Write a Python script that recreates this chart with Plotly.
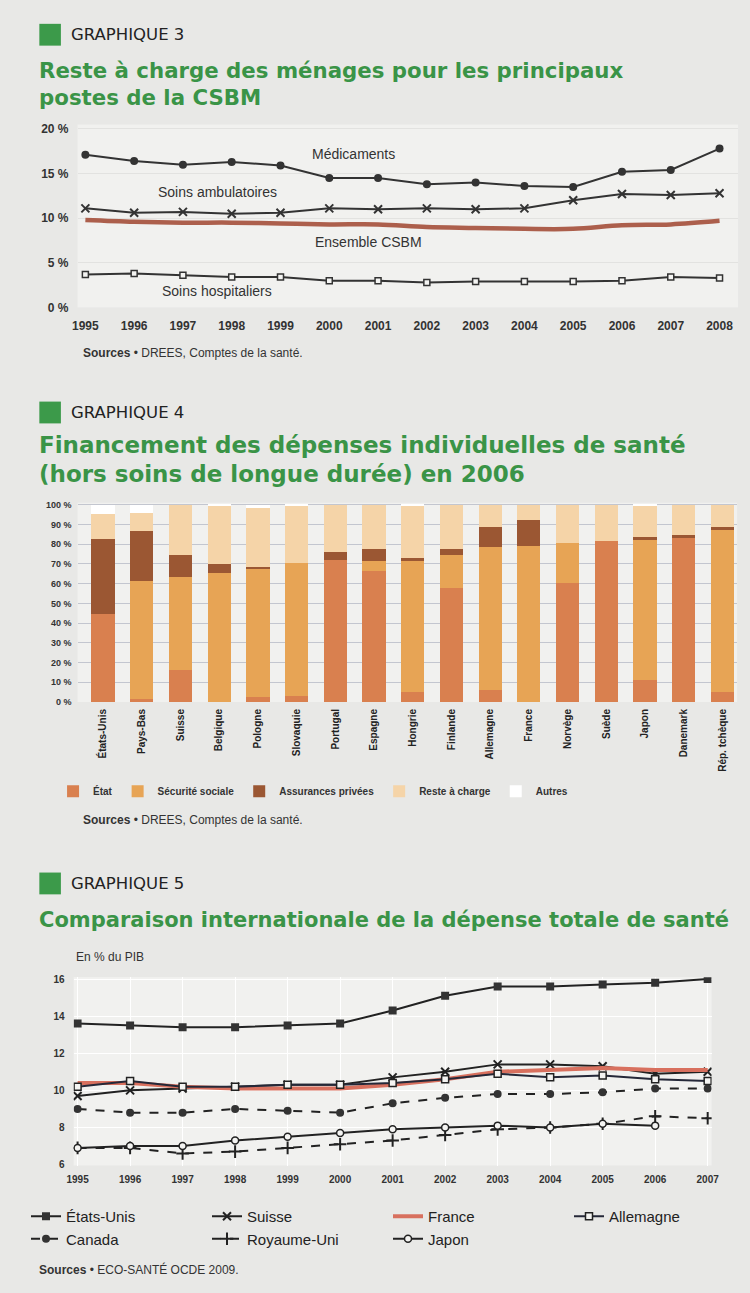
import plotly.graph_objects as go

W, H = 750, 1293

# --- Graphique 3 : reste à charge (%)
annees_g3 = list(range(1995, 2009))
medicaments = [17.1, 16.4, 16.0, 16.3, 15.9, 14.5, 14.5, 13.8, 14.0, 13.6, 13.5, 15.2, 15.4, 17.8]
soins_ambulatoires = [11.1, 10.6, 10.7, 10.5, 10.6, 11.1, 11.0, 11.1, 11.0, 11.1, 12.0, 12.7, 12.6, 12.8]
ensemble_csbm = [9.8, 9.6, 9.5, 9.5, 9.4, 9.3, 9.3, 9.0, 8.9, 8.8, 8.8, 9.2, 9.3, 9.7]
soins_hospitaliers = [3.7, 3.8, 3.6, 3.4, 3.4, 3.0, 3.0, 2.8, 2.9, 2.9, 2.9, 3.0, 3.4, 3.3]
ticks_g3 = [0, 5, 10, 15, 20]
labels_g3 = ["0 %", "5 %", "10 %", "15 %", "20 %"]

# --- Graphique 4 : financement 2006 (%)
pays_g4 = ["États-Unis", "Pays-Bas", "Suisse", "Belgique", "Pologne", "Slovaquie", "Portugal",
           "Espagne", "Hongrie", "Finlande", "Allemagne", "France", "Norvège", "Suède",
           "Japon", "Danemark", "Rép. tchèque"]
etat = [44.5, 1.5, 16.0, 0.0, 2.5, 3.0, 72.0, 66.5, 5.0, 58.0, 6.0, 0.0, 60.5, 81.5, 11.0, 83.2, 5.0]
securite_sociale = [0.0, 59.8, 47.5, 65.5, 65.2, 67.3, 0.0, 5.0, 67.0, 16.3, 72.7, 79.3, 20.2, 0.0, 71.0, 0.0, 82.7]
assurances_privees = [37.9, 25.3, 10.8, 4.2, 0.5, 0.0, 4.0, 5.8, 1.0, 3.0, 9.9, 13.1, 0.0, 0.0, 1.7, 1.2, 0.9]
reste_a_charge = [13.0, 9.4, 25.7, 29.8, 30.0, 29.2, 24.0, 22.7, 26.5, 22.7, 11.4, 7.6, 19.3, 18.5, 15.8, 15.6, 11.4]
autres = [4.6, 4.0, 0.0, 0.5, 1.8, 0.5, 0.0, 0.0, 0.5, 0.0, 0.0, 0.0, 0.0, 0.0, 0.5, 0.0, 0.0]
ticks_g4 = list(range(0, 101, 10))
labels_g4 = [f"{v} %" for v in ticks_g4]

# --- Graphique 5 : dépense totale de santé (% du PIB)
annees_g5 = list(range(1995, 2008))
etats_unis = [13.6, 13.5, 13.4, 13.4, 13.5, 13.6, 14.3, 15.1, 15.6, 15.6, 15.7, 15.8, 16.0]
suisse = [9.7, 10.0, 10.1, 10.2, 10.3, 10.3, 10.7, 11.0, 11.4, 11.4, 11.3, 10.9, 11.0]
france = [10.4, 10.4, 10.2, 10.1, 10.1, 10.1, 10.3, 10.6, 11.0, 11.1, 11.2, 11.1, 11.1]
allemagne = [10.2, 10.5, 10.2, 10.2, 10.3, 10.3, 10.4, 10.6, 10.9, 10.7, 10.8, 10.6, 10.5]
canada = [9.0, 8.8, 8.8, 9.0, 8.9, 8.8, 9.3, 9.6, 9.8, 9.8, 9.9, 10.1, 10.1]
royaume_uni = [6.9, 6.9, 6.6, 6.7, 6.9, 7.1, 7.3, 7.6, 7.9, 8.0, 8.2, 8.6, 8.5]
japon = [6.9, 7.0, 7.0, 7.3, 7.5, 7.7, 7.9, 8.0, 8.1, 8.0, 8.2, 8.1, None]

VERT = "#3a9447"
FOND = "#e8e8e6"
FOND_PLOT = "#f1f1ef"
NOIR = "#333333"
NARROW = "Liberation Sans Narrow, Arial Narrow, Liberation Sans, sans-serif"
SANS = "Liberation Sans, Arial, sans-serif"
TITRE = "DejaVu Sans, Verdana, sans-serif"


def fx(x):
    # pixels -> coordonnée papier horizontale
    return x / W


def fy(y):
    # pixels (depuis le haut) -> coordonnée papier verticale
    return 1 - y / H


fig = go.Figure()

# Graphique 3
ligne = dict(color=NOIR, width=2)
fig.add_trace(go.Scatter(x=annees_g3, y=medicaments, mode="lines+markers", line=ligne,
                         marker=dict(symbol="circle", size=8, color=NOIR),
                         showlegend=False, xaxis="x", yaxis="y"))
fig.add_trace(go.Scatter(x=annees_g3, y=soins_ambulatoires, mode="lines+markers", line=ligne,
                         marker=dict(symbol="x-thin", size=8, line=dict(color=NOIR, width=2)),
                         showlegend=False, xaxis="x", yaxis="y"))
fig.add_trace(go.Scatter(x=annees_g3, y=ensemble_csbm, mode="lines",
                         line=dict(color="#ac5f4c", width=4.5, shape="spline"),
                         showlegend=False, xaxis="x", yaxis="y"))
fig.add_trace(go.Scatter(x=annees_g3, y=soins_hospitaliers, mode="lines+markers", line=ligne,
                         marker=dict(symbol="square", size=6, color="#f4f4f2",
                                     line=dict(color=NOIR, width=1.5)),
                         showlegend=False, xaxis="x", yaxis="y"))

# Graphique 4
postes = [
    ("État", etat, "#d9804f"),
    ("Sécurité sociale", securite_sociale, "#e7a455"),
    ("Assurances privées", assurances_privees, "#9b5733"),
    ("Reste à charge", reste_a_charge, "#f5d4a8"),
    ("Autres", autres, "#ffffff"),
]
for nom, valeurs, couleur in postes:
    fig.add_trace(go.Bar(x=pays_g4, y=valeurs, name=nom, marker=dict(color=couleur, line=dict(width=0)),
                         xaxis="x2", yaxis="y2", legend="legend2", hoverinfo="skip"))

# Graphique 5
series_g5 = [
    ("États-Unis", etats_unis, dict(color="#222222", width=2),
     dict(symbol="square", size=8, color="#333333")),
    ("Suisse", suisse, dict(color="#222222", width=2),
     dict(symbol="x-thin", size=8, line=dict(color="#222222", width=2))),
    ("France", france, dict(color="#d8705e", width=4), None),
    ("Allemagne", allemagne, dict(color="#252838", width=2),
     dict(symbol="square", size=7, color="#f4f4f2", line=dict(color="#222222", width=1.5))),
    ("Canada", canada, dict(color="#222222", width=2, dash="dash"),
     dict(symbol="circle", size=8, color="#333333")),
    ("Royaume-Uni", royaume_uni, dict(color="#222222", width=2, dash="dash"),
     dict(symbol="cross-thin", size=9, line=dict(color="#222222", width=2))),
    ("Japon", japon, dict(color="#222222", width=2),
     dict(symbol="circle", size=7, color="#f4f4f2", line=dict(color="#222222", width=1.5))),
]
for nom, valeurs, trait, marqueur in series_g5:
    fig.add_trace(go.Scatter(x=annees_g5, y=valeurs, name=nom,
                             mode="lines" if marqueur is None else "lines+markers",
                             line=trait, marker=marqueur, xaxis="x3", yaxis="y3",
                             legend="legend3", connectgaps=False))

tick_gras = dict(family=NARROW, size=12, color=NOIR, weight="bold")

fig.update_layout(
    width=W, height=H,
    margin=dict(l=0, r=0, t=0, b=0),
    paper_bgcolor=FOND, plot_bgcolor=FOND_PLOT,
    barmode="stack", bargap=0.4,
    xaxis=dict(domain=[fx(72), fx(746)], anchor="y", range=[1994.84, 2008.38],
               tickvals=annees_g3, tickfont=tick_gras, showgrid=False, zeroline=False,
               ticklabelstandoff=10),
    yaxis=dict(domain=[fy(306), fy(121.5)], anchor="x", range=[0, 20.5],
               tickvals=ticks_g3, ticktext=labels_g3, tickfont=tick_gras,
               gridcolor="#e2e2e0", zeroline=False, ticklabelstandoff=8),
    xaxis2=dict(domain=[fx(72), fx(745)], anchor="y2", type="category", range=[-0.66, 16.38],
                tickangle=-90, tickfont=dict(family=NARROW, size=10, color="#222", weight="bold"),
                showgrid=False, ticklabelstandoff=4),
    yaxis2=dict(domain=[fy(704), fy(503)], anchor="x2", range=[0, 101],
                tickvals=ticks_g4, ticktext=labels_g4,
                tickfont=dict(family=NARROW, size=9, color=NOIR, weight="bold"),
                gridcolor="#c3c6cf", zeroline=False, ticklabelstandoff=5),
    xaxis3=dict(domain=[fx(68), fx(719)], anchor="y3", range=[1994.925, 2007.075],
                tickvals=annees_g5, tickfont=dict(family=NARROW, size=10, color=NOIR, weight="bold"),
                gridcolor="#ffffff", zeroline=False, ticklabelstandoff=6),
    yaxis3=dict(domain=[fy(1171.5), fy(981.5)], anchor="x3", range=[5.95, 16.1],
                tickvals=[6, 8, 10, 12, 14, 16],
                tickfont=dict(family=NARROW, size=10, color=NOIR, weight="bold"),
                gridcolor="#ffffff", zeroline=False, ticklabelstandoff=8),
    legend2=dict(orientation="h", x=fx(47), xanchor="left", y=fy(794), yanchor="middle",
                 font=dict(family=NARROW, size=10, color=NOIR, weight="bold"),
                 bgcolor="rgba(0,0,0,0)", traceorder="normal"),
    legend3=dict(orientation="h", x=fx(24), xanchor="left", y=fy(1234), yanchor="middle",
                 entrywidth=136, entrywidthmode="pixels",
                 font=dict(family=NARROW, size=15, color="#222"),
                 bgcolor="rgba(0,0,0,0)", traceorder="normal"),
)

# En-têtes des graphiques : carré vert, numéro, titre (taille de police, lignes)
entetes = [
    (31, "GRAPHIQUE 3", 21.3, [67, 94],
     ["Reste à charge des ménages pour les principaux", "postes de la CSBM"]),
    (412, "GRAPHIQUE 4", 23, [445, 474],
     ["Financement des dépenses individuelles de santé", "(hors soins de longue durée) en 2006"]),
    (887, "GRAPHIQUE 5", 21, [924],
     ["Comparaison internationale de la dépense totale de santé"]),
]
shapes = []
annotations = []
for y_num, numero, taille, y_titres, titres in entetes:
    shapes.append(dict(type="rect", xref="paper", yref="paper",
                       x0=fx(33), x1=fx(55), y0=fy(y_num + 11), y1=fy(y_num - 11),
                       fillcolor="#3c9a4a", line=dict(width=0)))
    annotations.append(dict(text=numero, x=fx(63), y=fy(y_num), xref="paper", yref="paper",
                            xanchor="left", yanchor="middle", showarrow=False,
                            font=dict(family=TITRE, size=16.5, color="#222")))
    for y_t, t in zip(y_titres, titres):
        annotations.append(dict(text="<b>" + t + "</b>", x=fx(31), y=fy(y_t), xref="paper", yref="paper",
                                xanchor="left", yanchor="middle", showarrow=False,
                                font=dict(family=TITRE, size=taille, color=VERT)))

# Étiquettes des courbes du graphique 3
for texte, xa, ya in [("Médicaments", 2000.5, 17.2), ("Soins ambulatoires", 1997.7, 12.9),
                      ("Ensemble CSBM", 2000.8, 7.3), ("Soins hospitaliers", 1997.7, 1.8)]:
    annotations.append(dict(text=texte, x=xa, y=ya, xref="x", yref="y", showarrow=False,
                            font=dict(family=NARROW, size=14, color=NOIR)))

# Sources
for texte, xs, ys in [("DREES, Comptes de la santé.", 76, 352),
                      ("DREES, Comptes de la santé.", 76, 823),
                      ("ECO-SANTÉ OCDE 2009.", 31, 1276)]:
    annotations.append(dict(text="<b>Sources</b> • " + texte, x=fx(xs), y=fy(ys),
                            xref="paper", yref="paper", xanchor="left", yanchor="middle",
                            showarrow=False, font=dict(family=SANS, size=12, color=NOIR)))

annotations.append(dict(text="En % du PIB", x=fx(68), y=fy(961), xref="paper", yref="paper",
                        xanchor="left", yanchor="middle", showarrow=False,
                        font=dict(family=SANS, size=12, color=NOIR)))

fig.update_layout(shapes=shapes, annotations=annotations)

# pas de marge autour de la figure dans la page, pas de barre d'outils
fig.write_html("out.html", config={"displayModeBar": False},
               post_script="document.body.style.margin='0';")
